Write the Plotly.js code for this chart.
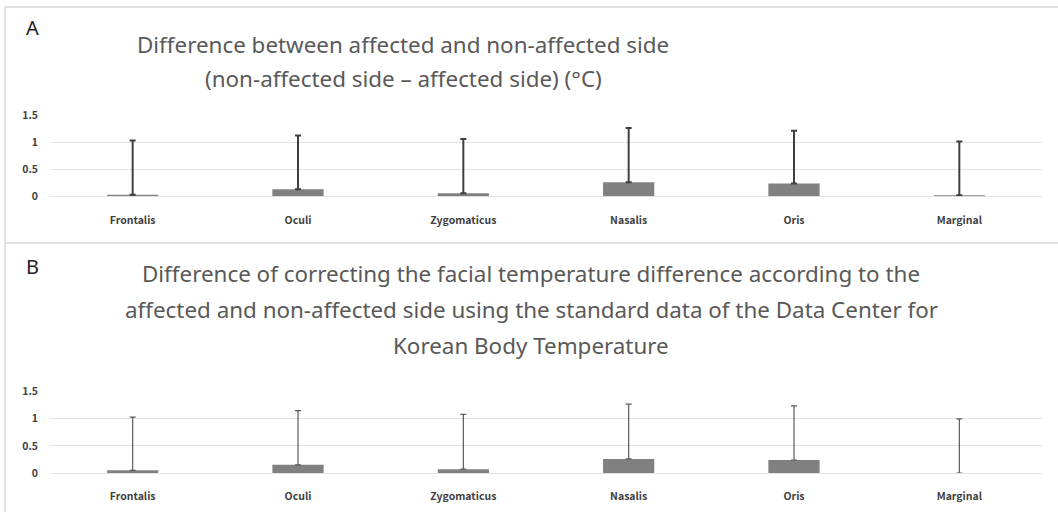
<!DOCTYPE html>
<html><head><meta charset="utf-8">
<script src="https://cdn.plot.ly/plotly-3.0.1.min.js"></script>
<style>html,body{margin:0;padding:0;background:#fff;}#c{width:1058px;height:512px;}</style>
</head><body><div id="c"></div>
<script>
const categories = ['Frontalis','Oculi','Zygomaticus','Nasalis','Oris','Marginal'];
const valuesA = [0.03, 0.13, 0.055, 0.26, 0.235, 0.02];
const errorsA = [1.00, 0.99, 1.00, 1.00, 0.975, 0.99];
const valuesB = [0.05, 0.15, 0.07, 0.26, 0.24, 0.0];
const errorsB = [0.98, 1.00, 1.01, 1.01, 1.00, 1.00];
const yTicks = [0, 0.5, 1, 1.5];
const yTickText = ['0','0.5','1','1.5'];
const titleA = ['Difference between affected and non-affected side', '(non-affected side \u2013 affected side) (\u00B0C)'];
const titleB = ['Difference of correcting the facial temperature difference according to the', 'affected and non-affected side using the standard data of the Data Center for', 'Korean Body Temperature'];
const panelLabels = ['A','B'];

const W = 1058, H = 512;
const py = v => 1 - v / H;
const px = v => v / W;

const traces = [
  {type:'bar', x:categories, y:valuesA, xaxis:'x', yaxis:'y', marker:{color:'#808080'},
   error_y:{type:'data', array:errorsA, arrayminus:categories.map(()=>0), symmetric:false, color:'#3f3f3f', thickness:2, width:3}, hoverinfo:'none'},
  {type:'bar', x:categories, y:valuesB, xaxis:'x2', yaxis:'y2', marker:{color:'#808080'},
   error_y:{type:'data', array:errorsB, arrayminus:categories.map(()=>0), symmetric:false, color:'#5a5a5a', thickness:1.2, width:3}, hoverinfo:'none'}
];

const tickFont = {family:'"Noto Sans CJK KR", "Noto Sans", sans-serif', size:10.5, color:'#404040', weight:'bold'};
const xax = (anchor, standoff) => ({domain:[px(50), px(1042)], anchor:anchor, showgrid:false, zeroline:false, showline:false, ticks:'',
  tickfont:tickFont, ticklabelstandoff:standoff, fixedrange:true});
const yax = (dom, anchor) => ({domain:dom, anchor:anchor, range:[0,1.5], tickvals:yTicks, ticktext:yTickText,
  showgrid:true, gridcolor:'#e3e3e3', gridwidth:1, zeroline:true, zerolinecolor:'#e3e3e3', zerolinewidth:1, showline:false, ticks:'',
  tickfont:tickFont, ticklabelstandoff:11, fixedrange:true});

const titleFont = {family:'"Noto Sans", sans-serif', size:22.4, color:'#595959'};
const ann = [];
titleA.forEach((t,i)=>ann.push({text:t, x:px(403), y:py([44,78][i]), xref:'paper', yref:'paper', showarrow:false, xanchor:'center', yanchor:'middle', font:titleFont}));
titleB.forEach((t,i)=>ann.push({text:t, x:px(531), y:py([273,309,345][i]), xref:'paper', yref:'paper', showarrow:false, xanchor:'center', yanchor:'middle', font:titleFont}));
ann.push({text:panelLabels[0], x:px(24), y:py(27), xref:'paper', yref:'paper', showarrow:false, xanchor:'left', yanchor:'middle', font:{family:'"Noto Sans", sans-serif', size:20, color:'#222'}});
ann.push({text:panelLabels[1], x:px(24), y:py(266), xref:'paper', yref:'paper', showarrow:false, xanchor:'left', yanchor:'middle', font:{family:'"Noto Sans", sans-serif', size:20, color:'#222'}});

const lineStyle = {color:'#d9d9d9', width:1.5};
const shapes = [
  {type:'line', xref:'paper', yref:'paper', x0:px(5), x1:1, y0:py(7), y1:py(7), line:lineStyle},
  {type:'line', xref:'paper', yref:'paper', x0:px(5), x1:px(5), y0:py(7), y1:0, line:lineStyle},
  {type:'line', xref:'paper', yref:'paper', x0:px(5), x1:1, y0:py(243), y1:py(243), line:lineStyle}
];

const layout = {
  width:W, height:H, margin:{l:0,r:0,t:0,b:0}, paper_bgcolor:'#fff', plot_bgcolor:'#fff',
  showlegend:false, bargap:0.69,
  xaxis: xax('y', 16), yaxis: yax([py(196.3), py(115)], 'x'),
  xaxis2: xax('y2', 15), yaxis2: yax([py(473), py(391.7)], 'x2'),
  annotations: ann, shapes: shapes
};
Plotly.newPlot('c', traces, layout, {staticPlot:true, displayModeBar:false});
</script></body></html>
